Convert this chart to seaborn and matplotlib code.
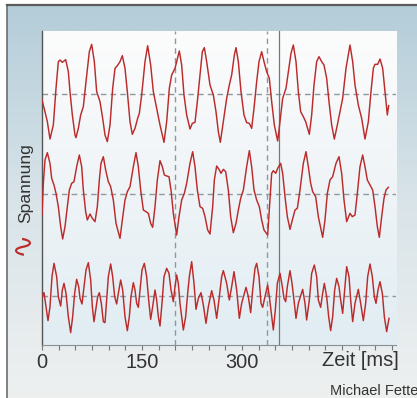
import numpy as np
import pandas as pd
import matplotlib
matplotlib.use("Agg")
import matplotlib.pyplot as plt
from matplotlib.colors import LinearSegmentedColormap
from matplotlib.ticker import MultipleLocator
import seaborn as sns

# Zeit in ms, Spannung relativ zur jeweiligen Nulllinie (willkuerliche Einheiten)
t1 = [0, 4.5, 8, 12, 17, 21, 24.5, 27, 30.5, 35.5,
      39.5, 42, 45.5, 49.5, 51, 54.5, 58, 62, 66, 71,
      74.5, 78.5, 82, 87, 91, 94.5, 98, 102, 106, 109.5,
      113, 117, 120.5, 124.5, 128, 132, 135.5, 139.5, 143.5, 146,
      149.5, 154.5, 158.5, 163, 167, 172, 177, 183, 187, 191,
      194.5, 199.5, 202, 206, 209.5, 213, 217, 222, 225.5, 229.5,
      233, 237, 240.5, 243.5, 247, 252, 257, 261, 264.5, 267.5,
      272, 277, 281, 284.5, 288.5, 291, 294.5, 298.5, 303, 307,
      311, 314.5, 318, 322, 325.5, 329.5, 333, 337, 341, 344.5,
      348.5, 353.5, 357, 361, 366, 369.5, 373.5, 377, 381, 384.5,
      388, 392, 395.5, 401, 404.5, 408, 412, 415.5, 419.5, 423,
      427, 430.5, 434.5, 438.5, 443, 447, 451, 456, 462, 466,
      469.5, 474.5, 479.5, 484.5, 489.5, 493.5, 497, 499.5, 503.5, 507,
      511, 514.5, 518, 520]
u1 = [-18, -53, -83, -135, -93, 17, 97, 102, 95, 103,
      67, 7, -63, -123, -131, -103, -63, -38, 37, 127,
      149, 97, 7, -23, -73, -123, -143, -93, 17, 77,
      85, 97, 115, 77, 7, -83, -121, -103, -73, -58,
      -3, 97, 145, 87, 7, -43, -93, -145, -83, 17,
      57, 77, 97, 129, 87, -3, -63, -105, -88, -85,
      -23, 57, 127, 139, 97, 27, -3, -53, -113, -145,
      -83, -13, 27, 57, 117, 139, 97, 7, -63, -86,
      -88, -103, -43, 37, 97, 127, 97, 67, 47, -23,
      -93, -141, -83, -13, 17, 67, 122, 147, 97, 7,
      -53, -68, -83, -121, -63, 27, 97, 112, 97, 87,
      47, -23, -93, -135, -93, -53, -13, 77, 147, 97,
      27, -33, -73, -135, -83, 7, 77, 89, 89, 105,
      77, 7, -63, -35]

t2 = [0, 2, 4.5, 8, 12, 14.5, 18, 21, 24.5, 28,
      31, 34.5, 38, 41, 44.5, 48, 52, 56, 59.5, 62,
      65.5, 68, 72, 75.5, 79.5, 83, 86, 88.5, 92, 95.5,
      99.5, 103, 107, 111, 117, 120.5, 124.5, 128, 132, 137,
      141, 144.5, 148, 152, 156, 159.5, 163, 166, 169.5, 173,
      177, 180.5, 183.5, 187, 190.5, 193.5, 197, 202, 205.5, 209.5,
      213.5, 217, 222, 226, 229.5, 233, 237, 241, 244.5, 248.5,
      252, 256, 258.5, 262, 265.5, 268.5, 272, 275.5, 279.5, 283,
      287, 291, 294.5, 298, 302, 307, 311, 314.5, 318, 322,
      326, 329.5, 333, 338.5, 342, 344.5, 347, 350.5, 353.5, 358,
      361, 364.5, 368, 372, 375.5, 379.5, 383, 387, 392, 396,
      399.5, 403, 406, 410.5, 414.5, 421, 424.5, 428, 432, 436,
      441, 445.5, 449.5, 453, 457, 462, 465.5, 469.5, 473, 477,
      481, 484.5, 488, 492, 496, 499.5, 503, 506, 509.5, 513,
      516, 519.5]
u2 = [-63, 32, 102, 124, 92, 47, 27, 2, -38, -98,
      -135, -98, -38, 12, 32, 37, 82, 117, 82, 12,
      -53, -78, -60, -73, -83, -38, 42, 92, 112, 72,
      37, 22, -18, -88, -133, -78, -18, 7, 22, 82,
      124, 82, 12, -48, -53, -58, -88, -100, -38, 42,
      100, 82, 57, 54, 52, 12, -58, -123, -68, -18,
      2, 32, 92, 127, 82, 12, -38, -43, -68, -108,
      -120, -38, 42, 84, 74, 62, 74, 67, 12, -68,
      -116, -88, -48, -13, 12, 82, 130, 82, 12, -18,
      -38, -78, -108, -123, -18, 62, 70, 62, 77, 92,
      62, -8, -68, -106, -78, -48, -43, 12, 92, 127,
      82, 32, 7, -8, -68, -130, -78, 2, 42, 52,
      92, 112, 62, -18, -83, -58, -68, -63, 2, 82,
      117, 82, 42, 27, 12, -38, -98, -130, -68, -13,
      12, 20]

t3 = [0, 3, 6, 9, 12, 15, 18, 22, 24.5, 28,
      30.5, 33, 36, 39.5, 43, 46, 49, 52, 55, 57,
      60, 63, 66, 69.5, 73, 75.5, 78, 81, 83.5, 86,
      89, 92, 94.5, 97, 99.5, 103, 106, 109, 112, 114.5,
      118, 121, 124.5, 128, 131, 133.5, 137, 139.5, 142, 144.5,
      147, 150, 153.5, 157, 160, 163, 166, 169.5, 172, 174.5,
      177, 180, 183, 187, 190.5, 193.5, 197, 199.5, 202, 204.5,
      207, 212, 215.5, 218.5, 221, 224.5, 228, 231, 234.5, 238.5,
      242, 246, 249.5, 254.5, 258, 262, 266, 269.5, 272, 277,
      281, 284.5, 288, 292, 296, 299.5, 306, 309.5, 313, 316,
      319.5, 322, 325.5, 328.5, 331, 334.5, 338.5, 341, 347, 350,
      353, 357, 360.5, 363, 365.5, 368, 372, 375, 378, 381,
      384.5, 391, 394.5, 397, 401, 404.5, 408.5, 412, 414.5, 418,
      421, 423.5, 427, 430, 433, 436, 439, 442, 445.5, 448,
      451, 453.5, 457, 460.5, 463, 466, 469.5, 474.5, 478, 482,
      485.5, 488.5, 492, 495.5, 498.5, 501, 504, 507, 510.5, 513.5,
      517, 520.5]
u3 = [-3, 9, -33, -75, -33, 57, 97, 57, -3, -31,
      17, 37, 7, -63, -111, -63, 7, 49, 27, -8,
      -25, 27, 77, 99, 47, -33, -78, -38, -3, 9,
      -23, -78, -81, -13, 57, 95, 57, -3, -25, 7,
      47, 17, -63, -105, -63, -3, 39, 17, -23, -35,
      17, 77, 97, 57, -13, -71, -33, 17, -13, -63,
      -91, -23, 57, 82, 67, 17, -18, 27, 62, 37,
      -23, -103, -63, 7, 57, 102, 37, -41, -8, 9,
      -28, -83, -33, 15, -13, -68, -3, 57, 75, 37,
      -13, 27, 72, 17, -68, -23, 25, -3, -51, 17,
      82, 97, 57, -23, -35, -3, 32, -3, -103, -43,
      37, 67, 27, -8, -18, 27, 75, 37, -13, -68,
      -23, 19, -23, -73, -13, 67, 92, 57, -13, -35,
      7, 37, -3, -63, -105, -63, 17, 52, 27, -13,
      -53, 7, 87, 57, -13, -78, -23, 19, -23, -75,
      -23, 57, 95, 57, -3, -23, 17, 42, 7, -63,
      -108, -68]

# Nulllinien der drei Kanaele
offsets = [753, 453, 148]
# Markierungen (ms)
marker_dashed = [200, 337]
marker_solid = [355]
x_major = [0, 150, 300]
x_labels = ["0", "150", "300"]

red = "#bb2b2b"
grid_col = "#8e989d"

plt.rcParams["font.family"] = ["Liberation Sans", "DejaVu Sans"]

fig = plt.figure(figsize=(4.17, 3.98), dpi=100)
W, H = 417, 398

# hintergrund mit verlauf
bg = fig.add_axes([0, 0, 1, 1], zorder=0)
bg.set_xlim(0, 1)
bg.set_ylim(0, 1)
bg.axis("off")
grad = np.linspace(0, 1, 256)[:, None]
frame_cmap = LinearSegmentedColormap.from_list("frame", ["#eef0f0", "#d9e4e9", "#b4cdd9"])
bg.imshow(grad, cmap=frame_cmap, origin="lower", aspect="auto",
          extent=[7 / W, 1, 0, 1 - 5 / H])
area = [42 / W, 53 / H, 354 / W, 314 / H]
plot_cmap = LinearSegmentedColormap.from_list("area", ["#e1edf3", "#eff4f7", "#fcfcfc"])
bg.imshow(grad, cmap=plot_cmap, origin="lower", aspect="auto",
          extent=[area[0], area[0] + area[2], area[1], area[1] + area[3]])
bg.plot([7 / W, 7 / W], [0, 1 - 5 / H], color="#6d6d6d", lw=1.2)
bg.plot([7 / W, 1], [1 - 5 / H, 1 - 5 / H], color="#5a5a5a", lw=1.6)

ax = fig.add_axes(area, zorder=1)
ax.patch.set_alpha(0)

frames = []
for k, (t, u, off) in enumerate(zip([t1, t2, t3], [u1, u2, u3], offsets)):
    frames.append(pd.DataFrame({"zeit": t, "spannung": np.array(u) + off, "kanal": k}))
df = pd.concat(frames, ignore_index=True)

for off in offsets:
    ax.axhline(off, color=grid_col, lw=1, ls=(0, (4, 3)), zorder=1)
for xm in marker_dashed:
    ax.axvline(xm, color=grid_col, lw=1, ls=(0, (4, 3)), zorder=1)
for xm in marker_solid:
    ax.axvline(xm, color="#72787b", lw=0.9, zorder=1)

sns.lineplot(data=df, x="zeit", y="spannung", units="kanal", estimator=None,
             color=red, lw=1.05, ax=ax, zorder=3)

ax.set_xlim(0, 531)
ax.set_ylim(0, 942)
ax.set_xlabel("")
ax.set_ylabel("")
ax.set_yticks([])
ax.set_xticks(x_major)
ax.set_xticklabels(x_labels)
ax.xaxis.set_minor_locator(MultipleLocator(25))
ax.tick_params(axis="x", which="both", direction="out", length=3.5, width=0.8,
               color="#777777", labelsize=14.4, labelcolor="#333333", pad=2)
for s in ["top", "right"]:
    ax.spines[s].set_visible(False)
ax.spines["left"].set_color("#555555")
ax.spines["left"].set_linewidth(1.0)
ax.spines["bottom"].set_color("#8a8f92")
ax.spines["bottom"].set_linewidth(0.8)

fig.text(399 / W, 1 - 366 / H, "Zeit [ms]", ha="right", va="baseline",
         fontsize=14.4, color="#333333")
fig.text(26 / W, 1 - 183 / H, "Spannung", rotation=90, ha="center", va="center",
         fontsize=12.6, color="#333333")
fig.text(22 / W, 1 - 243 / H, "\u223f", rotation=90, ha="center", va="center",
         fontsize=21, color=red, family=["DejaVu Sans"])
fig.text(330 / W, 1 - 395 / H, "Michael Fette", ha="left", va="baseline",
         fontsize=10.5, color="#333333")

fig.savefig("out.png", dpi=100)
